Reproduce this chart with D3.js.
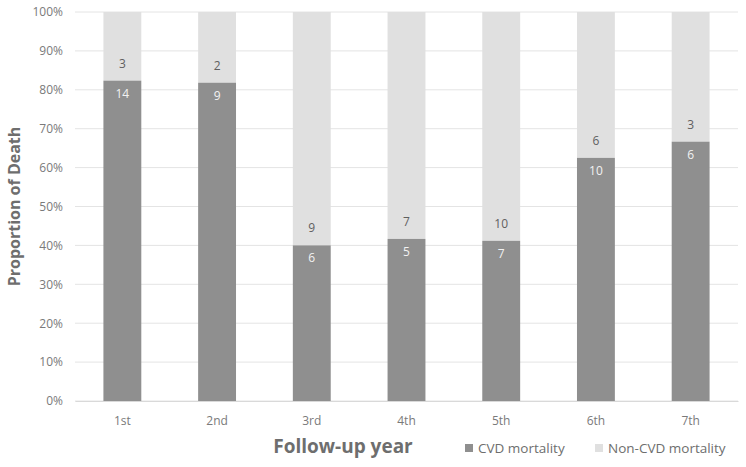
<!DOCTYPE html>
<html>
<head>
<meta charset="utf-8">
<script src="https://cdn.jsdelivr.net/npm/d3@7"></script>
<style>
  body { margin: 0; background: #fff; }
  svg text { font-family: "Open Sans", "Noto Sans", sans-serif; }
</style>
</head>
<body>
<div id="chart"></div>
<script>
const years = ['1st', '2nd', '3rd', '4th', '5th', '6th', '7th'];
const cvdDeaths = [14, 9, 6, 5, 7, 10, 6];
const nonCvdDeaths = [3, 2, 9, 7, 10, 6, 3];
const yTicks = [0, 0.1, 0.2, 0.3, 0.4, 0.5, 0.6, 0.7, 0.8, 0.9, 1];

const data = years.map((y, i) => {
    const total = cvdDeaths[i] + nonCvdDeaths[i];
    return { year: y, cvd: cvdDeaths[i], non: nonCvdDeaths[i], share: cvdDeaths[i] / total };
});

const W = 746, H = 467;
const margin = { top: 12, right: 8, bottom: 66, left: 75 };
const width = W - margin.left - margin.right;
const height = H - margin.top - margin.bottom;

const darkCol = '#8f8f8f';
const lightCol = '#e0e0e0';
const textCol = '#6e6e6e';
const tickCol = '#7a7a7a';

const svg = d3.select('#chart').append('svg')
    .attr('width', W).attr('height', H);

const g = svg.append('g')
    .attr('transform', `translate(${margin.left},${margin.top})`);

const x = d3.scaleBand().domain(years).range([0, width]).paddingInner(0.6).paddingOuter(0.3);
const y = d3.scaleLinear().domain([0, 1]).range([height, 0]);

// grid
g.selectAll('.grid').data(yTicks).enter().append('line')
    .attr('x1', 0).attr('x2', width)
    .attr('y1', d => y(d)).attr('y2', d => y(d))
    .attr('stroke', '#e4e4e4').attr('stroke-width', 1);

// y axis
const yAxis = g.append('g')
    .call(d3.axisLeft(y).tickValues(yTicks).tickFormat(d3.format('.0%')).tickSize(0).tickPadding(12));
yAxis.select('.domain').remove();
yAxis.selectAll('text').attr('fill', tickCol).style('font-size', '12px');

// x axis
const xAxis = g.append('g')
    .attr('transform', `translate(0,${height})`)
    .call(d3.axisBottom(x).tickSize(0).tickPadding(15));
xAxis.select('.domain').attr('stroke', '#d9d9d9');
xAxis.selectAll('text').attr('fill', tickCol).style('font-size', '12px');

// bars: non-CVD (full) then CVD
g.selectAll('.bar-non').data(data).enter().append('rect')
    .attr('x', d => x(d.year)).attr('width', x.bandwidth())
    .attr('y', y(1)).attr('height', d => y(d.share) - y(1))
    .attr('fill', lightCol);

g.selectAll('.bar-cvd').data(data).enter().append('rect')
    .attr('x', d => x(d.year)).attr('width', x.bandwidth())
    .attr('y', d => y(d.share)).attr('height', d => y(0) - y(d.share))
    .attr('fill', darkCol);

// labels
g.selectAll('.lab-non').data(data).enter().append('text')
    .attr('x', d => x(d.year) + x.bandwidth() / 2)
    .attr('y', d => y(d.share) - 13)
    .attr('text-anchor', 'middle')
    .attr('fill', '#5f5f5f').style('font-size', '12px')
    .text(d => d.non);

g.selectAll('.lab-cvd').data(data).enter().append('text')
    .attr('x', d => x(d.year) + x.bandwidth() / 2)
    .attr('y', d => y(d.share) + 17)
    .attr('text-anchor', 'middle')
    .attr('fill', '#f2f2f2').style('font-size', '12px')
    .text(d => d.cvd);

// axis titles
svg.append('text')
    .attr('transform', `translate(20,${margin.top + height / 2}) rotate(-90)`)
    .attr('text-anchor', 'middle')
    .attr('fill', textCol).style('font-size', '16px').style('font-weight', 'bold')
    .text('Proportion of Death');

svg.append('text')
    .attr('x', 343).attr('y', 453)
    .attr('text-anchor', 'middle')
    .attr('fill', textCol).style('font-size', '19px').style('font-weight', 'bold')
    .text('Follow-up year');

// legend
const legend = svg.append('g').attr('transform', 'translate(465,453)');
const legendItems = [
    { label: 'CVD mortality', color: darkCol, dx: 0 },
    { label: 'Non-CVD mortality', color: lightCol, dx: 130 }
];
legendItems.forEach(it => {
    legend.append('rect').attr('x', it.dx).attr('y', -9).attr('width', 8).attr('height', 8).attr('fill', it.color);
    legend.append('text').attr('x', it.dx + 13).attr('y', 0)
        .attr('fill', textCol).style('font-size', '13.5px').text(it.label);
});
</script>
</body>
</html>
